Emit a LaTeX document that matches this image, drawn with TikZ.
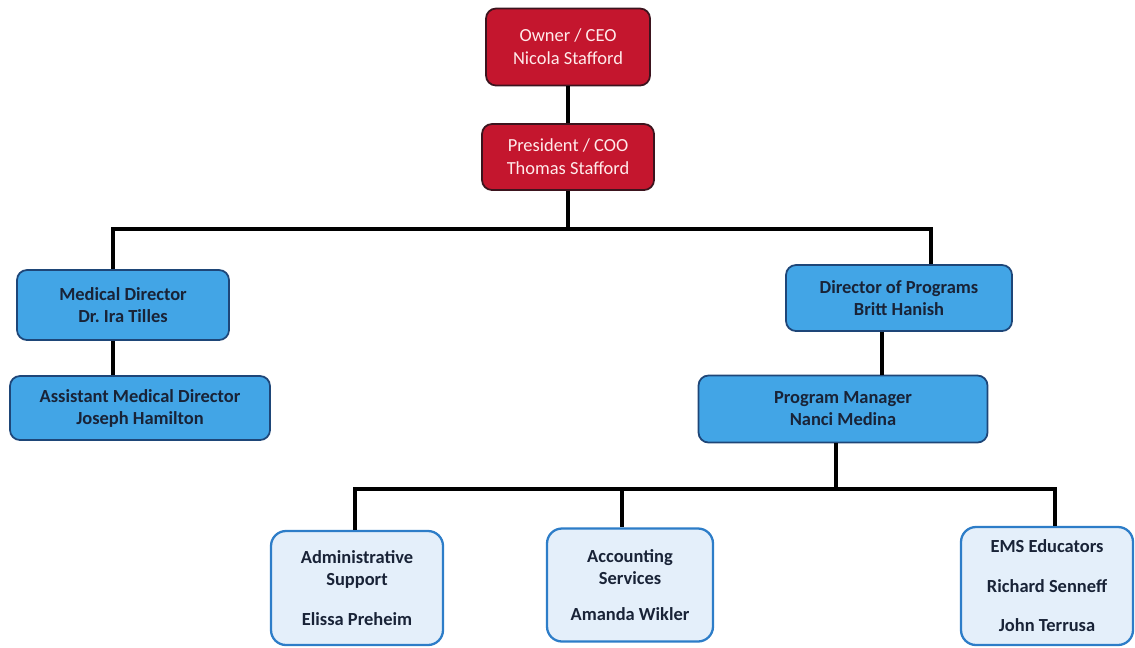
\documentclass[tikz,border=0pt]{standalone}
\usepackage{fontspec}
\setmainfont{Carlito}
\usepackage{xcolor}
\usetikzlibrary{positioning, calc}
\definecolor{topred}{RGB}{196,22,46}
\definecolor{topedge}{RGB}{60,20,30}
\definecolor{midblue}{RGB}{66,165,230}
\definecolor{midedge}{RGB}{30,70,120}
\definecolor{lowfill}{RGB}{228,239,250}
\definecolor{lowedge}{RGB}{45,125,200}
\definecolor{navytext}{RGB}{25,35,55}
\newcommand{\px}{0.02cm}
\newcommand{\orgbox}[6]{%
  \node[#1, minimum width=#4*\px, minimum height=#5*\px] (#2) at (#3) {#6};}
\tikzset{
  redbox/.style={draw=topedge, line width=1pt, fill=topred, rounded corners=0.2cm,
    text=white!92!red, align=center, font=\fontsize{10.5}{13}\selectfont},
  bluebox/.style={draw=midedge, line width=1pt, fill=midblue, rounded corners=0.2cm,
    text=navytext, align=center, font=\fontsize{10.5}{12.5}\selectfont\bfseries},
  lightbox/.style={draw=lowedge, line width=1.3pt, fill=lowfill, rounded corners=0.3cm,
    text=navytext, align=center, font=\fontsize{10.5}{12.5}\selectfont\bfseries},
  link/.style={line width=1.8pt, black}
}

\begin{document}
\frenchspacing
\begin{tikzpicture}[x=0.02cm, y=-0.02cm]
\useasboundingbox (0,0) rectangle (1135,647);
% top level
\orgbox{redbox}{ceo}{568,47}{164}{77}{Owner / CEO\\Nicola Stafford}
\orgbox{redbox}{coo}{568,157}{172}{66}{President / COO\\Thomas Stafford}
% directors
\orgbox{bluebox}{med}{123,305}{212}{70}{Medical Director\\Dr. Ira Tilles}
\orgbox{bluebox}{asst}{140,408}{260}{64}{Assistant Medical Director\\Joseph Hamilton}
\orgbox{bluebox}{dop}{899,298}{226}{66}{Director of Programs\\Britt Hanish}
\orgbox{bluebox}{pm}{843,409}{289}{67}{Program Manager\\Nanci Medina}
% staff
\orgbox{lightbox}{adm}{357,588}{172}{114}{Administrative\\Support\\[10pt]Elissa Preheim}
\orgbox{lightbox}{acc}{630,585}{166}{113}{Accounting\\Services\\[8pt]Amanda Wikler}
\orgbox{lightbox}{ems}{1047,586}{172}{118}{EMS Educators\\[10pt]Richard Senneff\\[10pt]John Terrusa}
% junction points
\coordinate (dA) at (113,229);
\coordinate (dB) at (931,229);
\coordinate (dC) at (882,350);
\coordinate (busB) at (836,489);
\coordinate (dD) at (355,489);
\coordinate (dE) at (622,489);
\coordinate (dF) at (1055,489);
% connectors
\draw[link] (ceo) -- (coo);
\draw[link] (coo.south) -- (coo.south |- dA);
\draw[link] (dA |- med.north) -- (dA) -- (dB) -- (dB |- dop.north);
\draw[link] (dA |- med.south) -- (dA |- asst.north);
\draw[link] (dC |- dop.south) -- (dC |- pm.north);
\draw[link] (busB |- pm.south) -- (busB);
\draw[link] (dD |- adm.north) -- (dD) -- (dF) -- (dF |- ems.north);
\draw[link] (dE) -- (dE |- acc.north);
\end{tikzpicture}
\end{document}
